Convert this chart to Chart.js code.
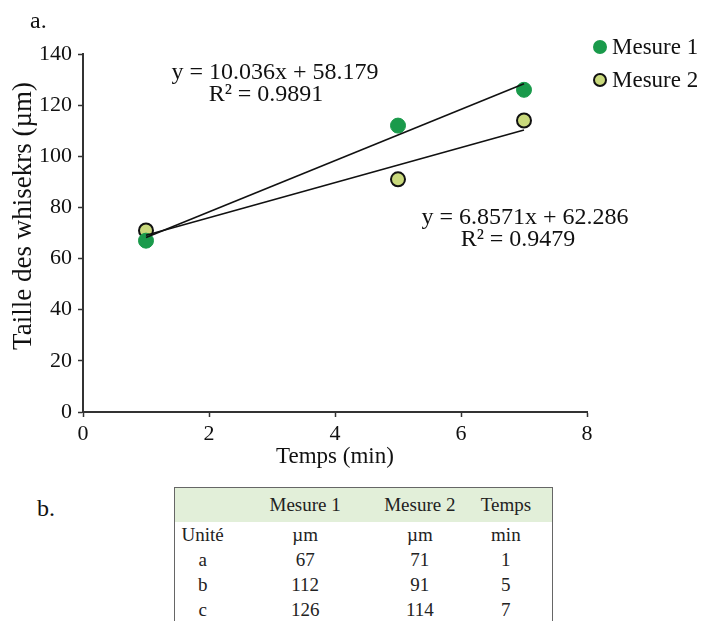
<!DOCTYPE html>
<html>
<head>
<meta charset="utf-8">
<script src="https://cdn.jsdelivr.net/npm/chart.js@4.4.0/dist/chart.umd.min.js"></script>
<style>
  html, body { margin: 0; padding: 0; background: #fff; width: 709px; height: 621px; overflow: hidden;
    font-family: "Liberation Serif", "Times New Roman", serif; color: #111; }
  #wrap { position: absolute; left: 0; top: 0; width: 709px; height: 470px; }
  #lblB { position: absolute; left: 37px; top: 494px; font-size: 24px; line-height: 28px; }
  #tbl { position: absolute; left: 174px; top: 487px; width: 379px; border-collapse: collapse;
    border: 1px solid #666; border-bottom: none; font-size: 19px; color: #222; }
  #tbl td { padding: 0; text-align: center; height: 25px; line-height: 25px; }
  #tbl tr.head td { background: #e2efd9; height: 34px; line-height: 34px; }
</style>
</head>
<body>
<div id="wrap"><canvas id="chart" width="709" height="470"></canvas></div>
<div id="lblB">b.</div>
<table id="tbl"></table>

<script>
// === data ===
const times = [1, 5, 7];
const mesure1 = [67, 112, 126];
const mesure2 = [71, 91, 114];
const rowNames = ["a", "b", "c"];
const units = ["Unité", "µm", "µm", "min"];
const headers = ["", "Mesure 1", "Mesure 2", "Temps"];

// trendline end points (x = 1 and x = 7)
const trendX = [1, 7];
const trend1 = [68.2, 128.4];
const trend2 = [69.1, 110.3];
const eq1 = ["y = 10.036x + 58.179", "R² = 0.9891"];
const eq2 = ["y = 6.8571x + 62.286", "R² = 0.9479"];

const GREEN = "#1a9a4b";
const OLIVE = "#c9d97c";
const SERIF = '"Liberation Serif", "Times New Roman", serif';

const toPts = (xs, ys) => xs.map((x, i) => ({ x: x, y: ys[i] }));

// text, legend and y title drawn on top of the chart
const decorations = {
  id: "decorations",
  afterDraw(chart) {
    const ctx = chart.ctx;
    ctx.save();
    ctx.fillStyle = "#111";
    ctx.textBaseline = "middle";

    ctx.font = "24px " + SERIF;
    ctx.textAlign = "left";
    ctx.fillText("a.", 30, 22);

    // trendline equations
    ctx.textAlign = "center";
    ctx.fillText(eq1[0], 275, 73);
    ctx.fillText(eq1[1], 266, 95);
    ctx.fillText(eq2[0], 525, 218);
    ctx.fillText(eq2[1], 518, 240);

    // legend
    const items = [
      { label: "Mesure 1", fill: GREEN, stroke: GREEN, y: 47 },
      { label: "Mesure 2", fill: OLIVE, stroke: "#111", y: 80 }
    ];
    ctx.font = "23px " + SERIF;
    ctx.textAlign = "left";
    items.forEach(it => {
      ctx.beginPath();
      ctx.arc(600, it.y, 6, 0, Math.PI * 2);
      ctx.fillStyle = it.fill;
      ctx.fill();
      ctx.lineWidth = 2;
      ctx.strokeStyle = it.stroke;
      ctx.stroke();
      ctx.fillStyle = "#111";
      ctx.fillText(it.label, 612, it.y + 1);
    });

    // y axis title
    ctx.translate(24, 216);
    ctx.rotate(-Math.PI / 2);
    ctx.textAlign = "center";
    ctx.font = "27px " + SERIF;
    ctx.fillText("Taille des whisekrs (µm)", 0, 0);
    ctx.restore();
  }
};

new Chart(document.getElementById("chart").getContext("2d"), {
  type: "scatter",
  data: {
    datasets: [
      {
        label: "Tendance 1",
        type: "line",
        data: toPts(trendX, trend1),
        borderColor: "#111",
        borderWidth: 1.6,
        pointRadius: 0,
        fill: false
      },
      {
        label: "Tendance 2",
        type: "line",
        data: toPts(trendX, trend2),
        borderColor: "#111",
        borderWidth: 1.6,
        pointRadius: 0,
        fill: false
      },
      {
        label: "Mesure 1",
        data: toPts(times, mesure1),
        backgroundColor: GREEN,
        borderColor: GREEN,
        borderWidth: 1,
        pointRadius: 7.5
      },
      {
        label: "Mesure 2",
        data: toPts(times, mesure2),
        backgroundColor: OLIVE,
        borderColor: "#111",
        borderWidth: 2,
        pointRadius: 7
      }
    ]
  },
  options: {
    responsive: false,
    animation: false,
    layout: { padding: { top: 54, right: 122, left: 0, bottom: 0 } },
    plugins: {
      legend: { display: false },
      tooltip: { enabled: false }
    },
    scales: {
      x: {
        type: "linear",
        min: 0,
        max: 8,
        afterFit: s => { s.height = 58; },
        ticks: { stepSize: 2, color: "#111", padding: 4, font: { family: SERIF, size: 22 } },
        grid: { drawOnChartArea: false, tickLength: 5, color: "#333", tickWidth: 1.5 },
        border: { color: "#333", width: 2 },
        title: {
          display: true,
          text: "Temps (min)",
          color: "#111",
          padding: { top: 0, bottom: 0 },
          font: { family: SERIF, size: 23, lineHeight: 1.1 }
        }
      },
      y: {
        min: 0,
        max: 140,
        afterFit: s => { s.width = 83; },
        ticks: { stepSize: 20, color: "#111", padding: 6, font: { family: SERIF, size: 22 } },
        grid: { drawOnChartArea: false, tickLength: 5, color: "#333", tickWidth: 1.5 },
        border: { color: "#333", width: 2 }
      }
    }
  },
  plugins: [decorations]
});

// === table b. built from the same arrays ===
const tbl = document.getElementById("tbl");
const widths = [56, 150, 80, 93];
let html = "<colgroup>" + widths.map(w => `<col style="width:${w}px">`).join("") + "</colgroup>";
html += '<tr class="head">' + headers.map(h => `<td>${h}</td>`).join("") + "</tr>";
html += "<tr>" + units.map(u => `<td>${u}</td>`).join("") + "</tr>";
rowNames.forEach((r, i) => {
  html += `<tr><td>${r}</td><td>${mesure1[i]}</td><td>${mesure2[i]}</td><td>${times[i]}</td></tr>`;
});
tbl.innerHTML = html;
</script>
</body>
</html>
